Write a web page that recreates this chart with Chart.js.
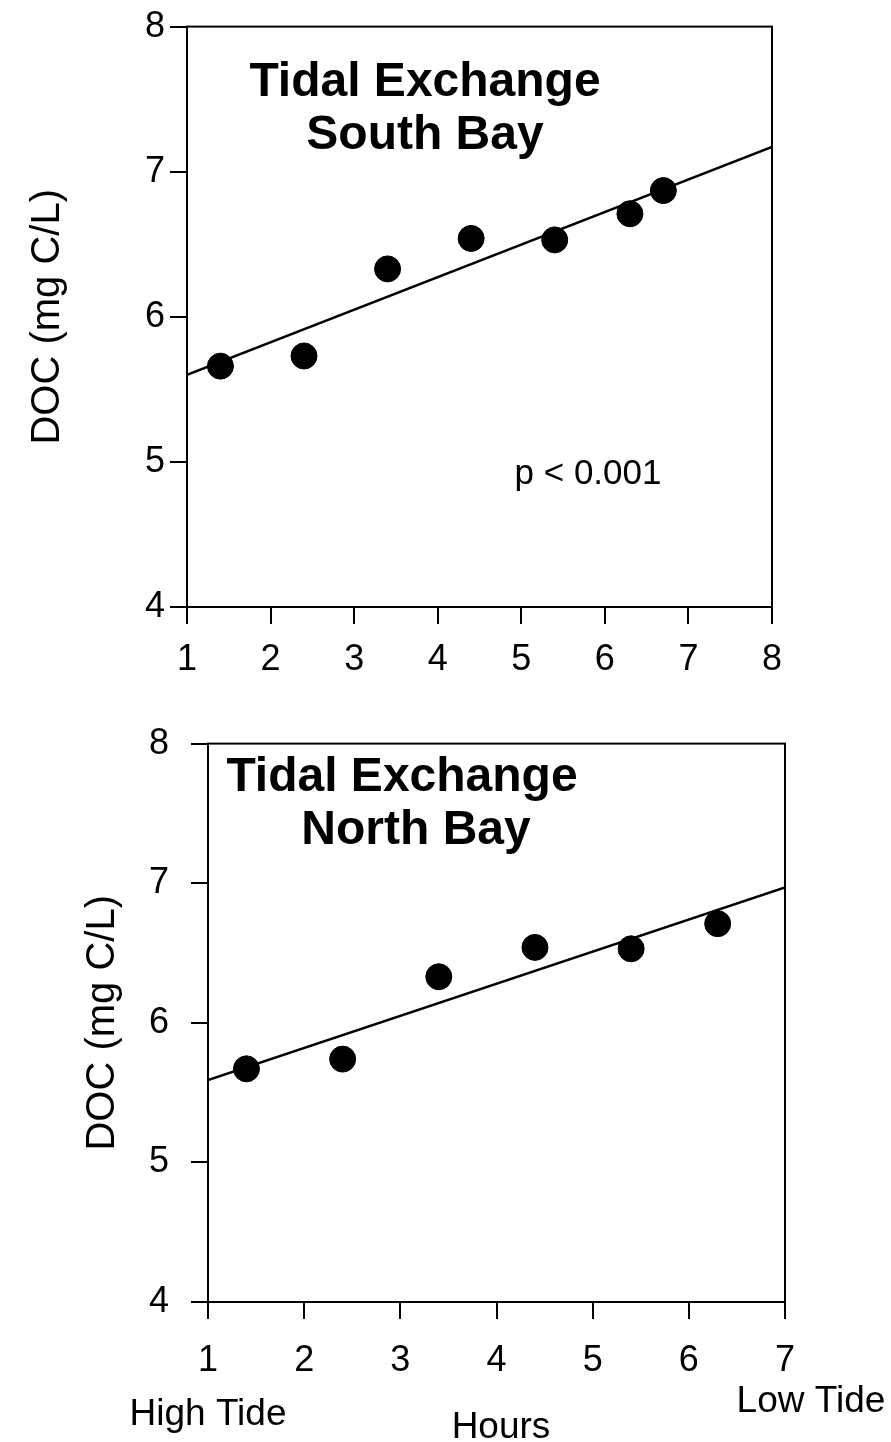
<!DOCTYPE html>
<html>
<head>
<meta charset="utf-8">
<script src="https://cdn.jsdelivr.net/npm/chart.js@4/dist/chart.umd.min.js"></script>
<style>
  html, body { margin: 0; padding: 0; background: #fff; }
  body { width: 891px; height: 1442px; position: relative; overflow: hidden; }
  .panel { position: absolute; left: 0; }
</style>
</head>
<body>
<div class="panel" style="top:0; width:891px; height:700px;"><canvas id="southChart"></canvas></div>
<div class="panel" style="top:700px; width:891px; height:742px;"><canvas id="northChart"></canvas></div>

<script>
// values
const hoursSouth = [1.4, 2.4, 3.4, 4.4, 5.4, 6.3, 6.7];
const docSouth = [5.66, 5.73, 6.33, 6.54, 6.53, 6.71, 6.87];
const hoursNorth = [1.4, 2.4, 3.4, 4.4, 5.4, 6.3];
const docNorth = [5.67, 5.74, 6.33, 6.54, 6.53, 6.71];

// regression line end points
const fitSouthX = [1, 8];
const fitSouthY = [5.6, 7.17];
const fitNorthX = [1, 7];
const fitNorthY = [5.59, 6.97];

const yTicks = [4, 5, 6, 7, 8];
const xTicksSouth = [1, 2, 3, 4, 5, 6, 7, 8];
const xTicksNorth = [1, 2, 3, 4, 5, 6, 7];

const FONT = "'Liberation Sans', Arial, Helvetica, sans-serif";
Chart.defaults.font.family = FONT;
Chart.defaults.color = '#000';

const toPoints = (xs, ys) => xs.map((x, i) => ({ x: x, y: ys[i] }));

// draws the box around the plot and the text inside / under it
const boxAndText = {
    id: 'boxAndText',
    afterDraw(chart, args, opts) {
        const { ctx, chartArea: a } = chart;
        ctx.save();
        ctx.strokeStyle = '#000';
        ctx.lineWidth = 2;
        ctx.strokeRect(a.left, a.top, a.right - a.left, a.bottom - a.top);
        ctx.fillStyle = '#000';
        ctx.textBaseline = 'middle';
        (opts.texts || []).forEach(t => {
            ctx.font = (t.bold ? 'bold ' : '') + t.size + 'px ' + FONT;
            ctx.textAlign = t.align || 'center';
            ctx.fillText(t.text, t.x, t.y);
        });
        ctx.restore();
    }
};

function makeChart(id, xs, ys, fx, fy, xTicks, opt) {
    const xMax = xTicks[xTicks.length - 1];
    return new Chart(document.getElementById(id), {
        type: 'scatter',
        data: {
            datasets: [
                {
                    data: toPoints(xs, ys),
                    backgroundColor: '#000',
                    borderColor: '#000',
                    pointRadius: 13,
                    pointHoverRadius: 13,
                },
                {
                    data: toPoints(fx, fy),
                    showLine: true,
                    borderColor: '#000',
                    borderWidth: 2.5,
                    pointRadius: 0,
                    fill: false,
                },
            ],
        },
        options: {
            responsive: true,
            maintainAspectRatio: false,
            animation: false,
            events: [],
            layout: { padding: { top: opt.padTop, right: opt.padRight, left: 0, bottom: 0 } },
            plugins: {
                legend: { display: false },
                tooltip: { enabled: false },
                boxAndText: { texts: opt.texts },
            },
            scales: {
                x: {
                    type: 'linear',
                    min: 1,
                    max: xMax,
                    afterBuildTicks: s => { s.ticks = xTicks.map(v => ({ value: v })); },
                    afterFit: s => { s.height = opt.xAxisHeight; },
                    border: { display: true, color: '#000', width: 2 },
                    grid: { drawOnChartArea: false, drawTicks: true, tickLength: 17, color: '#000', lineWidth: 2 },
                    ticks: { font: { size: 36 }, padding: opt.xLabelPad, maxRotation: 0 },
                },
                y: {
                    min: 4,
                    max: 8,
                    afterBuildTicks: s => { s.ticks = yTicks.map(v => ({ value: v })); },
                    afterFit: s => { s.width = opt.yAxisWidth; },
                    border: { display: true, color: '#000', width: 2 },
                    grid: { drawOnChartArea: false, drawTicks: true, tickLength: 17, color: '#000', lineWidth: 2 },
                    ticks: { font: { size: 36 }, padding: opt.yLabelPad },
                    title: {
                        display: true,
                        text: 'DOC (mg C/L)',
                        font: { size: 40 },
                        padding: { top: opt.yTitlePad, bottom: 0 },
                    },
                },
            },
        },
        plugins: [boxAndText],
    });
}

makeChart('southChart', hoursSouth, docSouth, fitSouthX, fitSouthY, xTicksSouth, {
    padTop: 26,
    padRight: 119,
    yAxisWidth: 187,
    xAxisHeight: 93,
    xLabelPad: 14,
    yLabelPad: 5,
    yTitlePad: 24,
    texts: [
        { text: 'Tidal Exchange', x: 425, y: 83, size: 48, bold: true },
        { text: 'South Bay', x: 425, y: 136, size: 48, bold: true },
        { text: 'p < 0.001', x: 588, y: 474, size: 35 },
    ],
});

makeChart('northChart', hoursNorth, docNorth, fitNorthX, fitNorthY, xTicksNorth, {
    padTop: 27,
    padRight: 106,
    yAxisWidth: 208,
    xAxisHeight: 140,
    xLabelPad: 20,
    yLabelPad: 22,
    yTitlePad: 79,
    texts: [
        { text: 'Tidal Exchange', x: 402, y: 78, size: 48, bold: true },
        { text: 'North Bay', x: 416, y: 131, size: 48, bold: true },
        { text: 'High Tide', x: 208, y: 715, size: 37 },
        { text: 'Hours', x: 501, y: 728, size: 37 },
        { text: 'Low Tide', x: 811, y: 702, size: 37 },
    ],
});
</script>
</body>
</html>
